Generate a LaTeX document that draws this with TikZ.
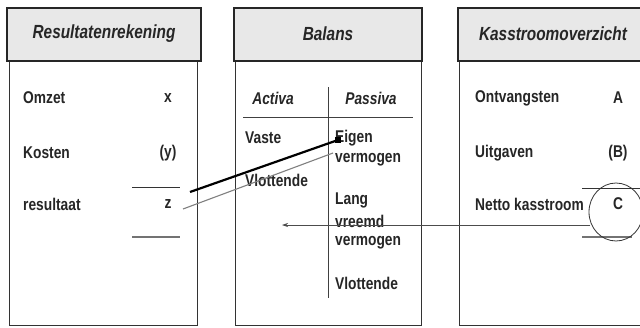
\documentclass[tikz,border=0pt]{standalone}
\usepackage{fontspec}
\setmainfont{Liberation Sans}[FakeStretch=0.81]
\usetikzlibrary{arrows.meta,shapes.geometric,calc}
\begin{document}
\begin{tikzpicture}[x=1pt,y=-1pt,
  hdr/.style={draw=black!85,line width=1.3pt,fill=black!9},
  bodybox/.style={draw=black!80,line width=0.7pt},
  hdrtxt/.style={font=\fontsize{19}{21}\selectfont\bfseries\itshape,text=black!85,inner sep=0pt},
  coltxt/.style={font=\fontsize{17}{19}\selectfont\bfseries\itshape,text=black!85,inner sep=0pt},
  txt/.style={font=\fontsize{17}{19}\selectfont\bfseries,text=black!85,inner sep=0pt,anchor=west},
  val/.style={font=\fontsize{17}{19}\selectfont\bfseries,text=black!85,inner sep=0pt},
  sumline/.style={draw=black!80,line width=0.8pt},
  totline/.style={draw=black!55,line width=2.2pt},
  link/.style={draw=black,line width=2.2pt},
  glink/.style={draw=black!50,line width=1.1pt},
  flow/.style={draw=black!70,line width=0.7pt,-{Stealth[length=6pt,width=4pt]}}
]
\useasboundingbox (0,0) rectangle (640,327);
\clip (0,0) rectangle (640,327);
\fill[white] (0,0) rectangle (640,327);
% boxes
\draw[bodybox] (9,61) rectangle (197,325);
\draw[hdr] (7,8) rectangle (201,61);
\draw[bodybox] (235,61) rectangle (421,325);
\draw[hdr] (234,8) rectangle (422,61);
\draw[bodybox] (459,61) rectangle (660,325);
\draw[hdr] (458,8) rectangle (660,61);
% headers
\node[hdrtxt] (h1) at (104,34) {Resultatenrekening};
\node[hdrtxt] (h2) at (328,34) {Balans};
\node[hdrtxt] (h3) at (553,34) {Kasstroomoverzicht};
% left box
\node[txt] (omzet) at (23,98) {Omzet};
\node[val] (x) at (168,98) {x};
\node[txt] (kosten) at (23,153) {Kosten};
\node[val] (y) at (168,153) {(y)};
\node[txt] (res) at (23,204) {resultaat};
\node[val] (z) at (168,204) {z};
\draw[sumline] (132,187) -- (180,187);
\draw[totline] (132,237) -- (180,237);
% middle box
\node[coltxt] (act) at (273,98) {Activa};
\node[coltxt] (pas) at (371,98) {Passiva};
\draw[draw=black!75,line width=0.8pt] (243,117) -- (413,117);
\draw[draw=black!75,line width=0.8pt] (328,87) -- (328,298);
\node[txt] (vaste) at (245,138) {Vaste};
\node[txt] (vlot1) at (245,180) {Vlottende};
\node[txt] (eigen) at (335,138) {Eigen};
\node[txt] (verm1) at (335,160) {vermogen};
\node[txt] (lang) at (335,200) {Lang};
\node[txt] (vreemd) at (335,221) {vreemd};
\node[txt] (verm2) at (335,243) {vermogen};
\node[txt] (vlot2) at (335,283) {Vlottende};
% right box
\node[txt] (ontv) at (475,98) {Ontvangsten};
\node[val] (A) at (618,98) {A};
\node[txt] (uitg) at (475,153) {Uitgaven};
\node[val] (B) at (618,153) {(B)};
\node[txt] (netto) at (475,204) {Netto kasstroom};
\node[val] (C) at (618,204) {C};
\draw[sumline] (582,188) -- (640,188);
\draw[totline] (582,237) -- (632,237);
\node[draw=black!80,line width=0.8pt,ellipse,minimum width=54pt,minimum height=58pt,inner sep=0pt] (circ) at (616,212) {};
% connectors
\coordinate (bl1) at (190,192);
\coordinate (bl2) at (338,140);
\coordinate (gl1) at (183,209);
\coordinate (gl2) at (333,153);
\draw[link] (bl1) -- (bl2);
\fill[black] ($(bl2)+(-3,-3)$) rectangle ($(bl2)+(3,3)$);
\draw[glink] (gl1) -- (gl2);
\coordinate (fs) at (590,225);
\coordinate (fe) at (282,225);
\draw[flow] (fs) -- (fe);
\end{tikzpicture}
\end{document}
